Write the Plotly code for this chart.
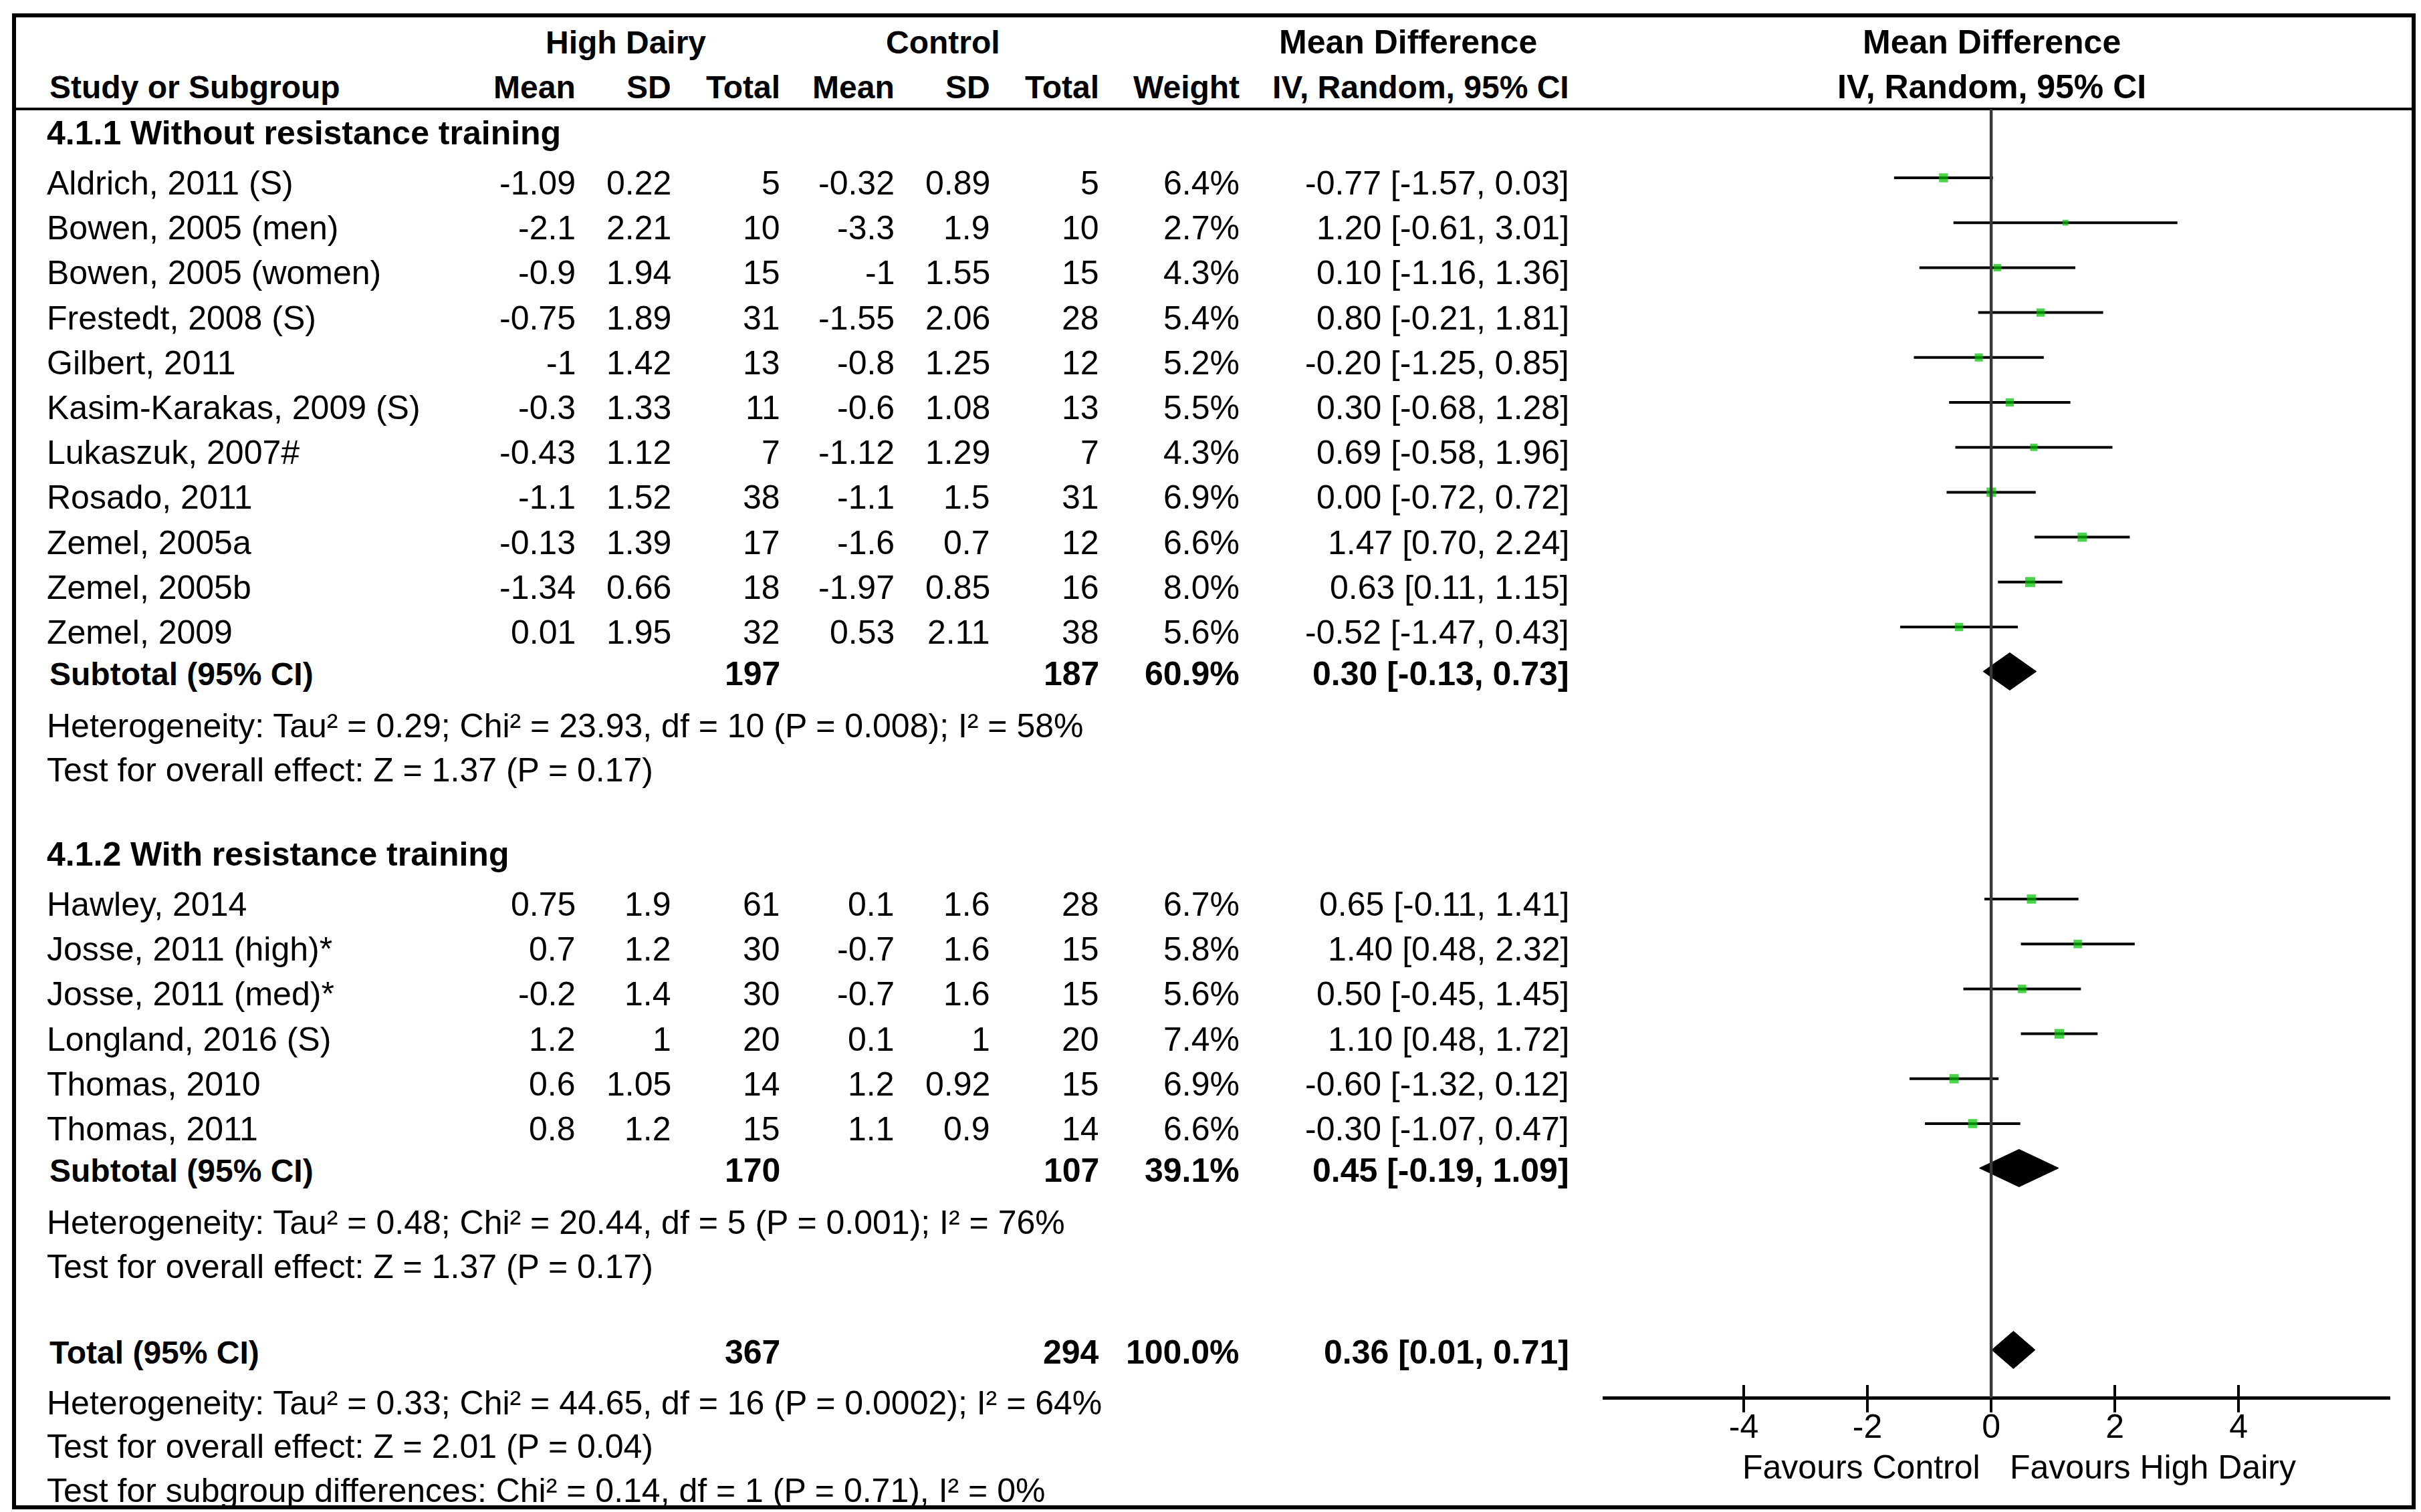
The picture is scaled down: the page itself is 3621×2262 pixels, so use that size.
import plotly.graph_objects as go

W, H = 3621, 2262

# ---- data ----
names_1 = ["Aldrich, 2011 (S)", "Bowen, 2005 (men)", "Bowen, 2005 (women)", "Frestedt, 2008 (S)",
           "Gilbert, 2011", "Kasim-Karakas, 2009 (S)", "Lukaszuk, 2007#", "Rosado, 2011",
           "Zemel, 2005a", "Zemel, 2005b", "Zemel, 2009"]
hd_mean_1 = [-1.09, -2.1, -0.9, -0.75, -1, -0.3, -0.43, -1.1, -0.13, -1.34, 0.01]
hd_sd_1 = [0.22, 2.21, 1.94, 1.89, 1.42, 1.33, 1.12, 1.52, 1.39, 0.66, 1.95]
hd_n_1 = [5, 10, 15, 31, 13, 11, 7, 38, 17, 18, 32]
ct_mean_1 = [-0.32, -3.3, -1, -1.55, -0.8, -0.6, -1.12, -1.1, -1.6, -1.97, 0.53]
ct_sd_1 = [0.89, 1.9, 1.55, 2.06, 1.25, 1.08, 1.29, 1.5, 0.7, 0.85, 2.11]
ct_n_1 = [5, 10, 15, 28, 12, 13, 7, 31, 12, 16, 38]
weight_1 = [6.4, 2.7, 4.3, 5.4, 5.2, 5.5, 4.3, 6.9, 6.6, 8.0, 5.6]
md_1 = [-0.77, 1.20, 0.10, 0.80, -0.20, 0.30, 0.69, 0.00, 1.47, 0.63, -0.52]
lo_1 = [-1.57, -0.61, -1.16, -0.21, -1.25, -0.68, -0.58, -0.72, 0.70, 0.11, -1.47]
hi_1 = [0.03, 3.01, 1.36, 1.81, 0.85, 1.28, 1.96, 0.72, 2.24, 1.15, 0.43]

names_2 = ["Hawley, 2014", "Josse, 2011 (high)*", "Josse, 2011 (med)*", "Longland, 2016 (S)",
           "Thomas, 2010", "Thomas, 2011"]
hd_mean_2 = [0.75, 0.7, -0.2, 1.2, 0.6, 0.8]
hd_sd_2 = [1.9, 1.2, 1.4, 1, 1.05, 1.2]
hd_n_2 = [61, 30, 30, 20, 14, 15]
ct_mean_2 = [0.1, -0.7, -0.7, 0.1, 1.2, 1.1]
ct_sd_2 = [1.6, 1.6, 1.6, 1, 0.92, 0.9]
ct_n_2 = [28, 15, 15, 20, 15, 14]
weight_2 = [6.7, 5.8, 5.6, 7.4, 6.9, 6.6]
md_2 = [0.65, 1.40, 0.50, 1.10, -0.60, -0.30]
lo_2 = [-0.11, 0.48, -0.45, 0.48, -1.32, -1.07]
hi_2 = [1.41, 2.32, 1.45, 1.72, 0.12, 0.47]

group_titles = ["4.1.1 Without resistance training", "4.1.2 With resistance training"]
# subtotal / total rows: high dairy N, control N, weight, MD, lower, upper
pooled_labels = ["Subtotal (95% CI)", "Subtotal (95% CI)", "Total (95% CI)"]
pooled_hd_n = [197, 170, 367]
pooled_ct_n = [187, 107, 294]
pooled_weight = [60.9, 39.1, 100.0]
pooled_md = [0.30, 0.45, 0.36]
pooled_lo = [-0.13, -0.19, 0.01]
pooled_hi = [0.73, 1.09, 0.71]

het_1 = ["Heterogeneity: Tau\u00b2 = 0.29; Chi\u00b2 = 23.93, df = 10 (P = 0.008); I\u00b2 = 58%",
         "Test for overall effect: Z = 1.37 (P = 0.17)"]
het_2 = ["Heterogeneity: Tau\u00b2 = 0.48; Chi\u00b2 = 20.44, df = 5 (P = 0.001); I\u00b2 = 76%",
         "Test for overall effect: Z = 1.37 (P = 0.17)"]
het_total = ["Heterogeneity: Tau\u00b2 = 0.33; Chi\u00b2 = 44.65, df = 16 (P = 0.0002); I\u00b2 = 64%",
             "Test for overall effect: Z = 2.01 (P = 0.04)",
             "Test for subgroup differences: Chi\u00b2 = 0.14, df = 1 (P = 0.71), I\u00b2 = 0%"]

tick_vals = [-4, -2, 0, 2, 4]
tick_text = ["-4", "-2", "0", "2", "4"]
favours = ["Favours Control", "Favours High Dairy"]

# ---- layout constants (pixels) ----
FONT = "Liberation Sans"
FS = 50
FS_BOLD = 48
LEFT_X = 60
COL_R = [855, 998, 1161, 1332, 1475, 1638, 1848, 2341]
HEAD_Y, COLHEAD_Y, RULE_Y = 55, 122, 155
AXIS_Y = 2083
STEP = 67.2
MARK_SHIFT = -8
DIAMOND_SHIFT = -3.5
DIAMOND_H = 28
X_RANGE = [-6.28, 6.45]
X_DOMAIN = [2389 / W, 3567 / W]
GREEN = "#00C000"

annotations = []


def label(x, y, s, anchor="left", bold=False, xref="paper", size=None):
    if size is None:
        size = FS_BOLD if bold else FS
    annotations.append(dict(
        x=x / W if xref == "paper" else x, y=y, xref=xref, yref="y",
        text="<b>%s</b>" % s if bold else s, showarrow=False,
        xanchor=anchor, yanchor="middle",
        font=dict(family=FONT, size=size, color="black")))


def num(v):
    return "{:g}".format(v)


# header
label(928, HEAD_Y, "High Dairy", "center", True)
label(1402, HEAD_Y, "Control", "center", True)
label(2098, HEAD_Y, "Mean Difference", "center", True, size=FS)
label(2971, HEAD_Y, "Mean Difference", "center", True, size=FS)
label(LEFT_X + 4, COLHEAD_Y, "Study or Subgroup", "left", True)
for x, s in zip(COL_R, ["Mean", "SD", "Total", "Mean", "SD", "Total", "Weight", "IV, Random, 95% CI"]):
    label(x, COLHEAD_Y, s, "right", True)
label(2971, COLHEAD_Y, "IV, Random, 95% CI", "center", True, size=FS)

groups = [
    (names_1, hd_mean_1, hd_sd_1, hd_n_1, ct_mean_1, ct_sd_1, ct_n_1, weight_1, md_1, lo_1, hi_1, het_1),
    (names_2, hd_mean_2, hd_sd_2, hd_n_2, ct_mean_2, ct_sd_2, ct_n_2, weight_2, md_2, lo_2, hi_2, het_2),
]

study_y, study_md, study_lo, study_hi, study_w = [], [], [], [], []
pooled_y = []

y = 191
for g, (nm, hm, hs, hn, cm, cs, cn, wt, md, lo, hi, het) in enumerate(groups):
    label(LEFT_X, y, group_titles[g], "left", True, size=FS)
    y += 75
    for i in range(len(nm)):
        if i:
            y += STEP
        label(LEFT_X, y, nm[i])
        cells = [num(hm[i]), num(hs[i]), str(hn[i]), num(cm[i]), num(cs[i]), str(cn[i]),
                 "%.1f%%" % wt[i], "%.2f [%.2f, %.2f]" % (md[i], lo[i], hi[i])]
        for x, s in zip(COL_R, cells):
            label(x, y, s, "right")
        study_y.append(y + MARK_SHIFT)
        study_md.append(md[i])
        study_lo.append(lo[i])
        study_hi.append(hi[i])
        study_w.append(wt[i])
    y += 62
    pooled_y.append(y)
    y += 78
    label(LEFT_X, y, het[0])
    y += 66
    label(LEFT_X, y, het[1])
    y += 126

y += 2
pooled_y.append(y)
for k, py in enumerate(pooled_y):
    label(LEFT_X + 4, py, pooled_labels[k], "left", True)
    cells = {2: str(pooled_hd_n[k]), 5: str(pooled_ct_n[k]), 6: "%.1f%%" % pooled_weight[k],
             7: "%.2f [%.2f, %.2f]" % (pooled_md[k], pooled_lo[k], pooled_hi[k])}
    for c, s in cells.items():
        label(COL_R[c], py, s, "right", True, size=FS)
y += 76
label(LEFT_X, y, het_total[0])
y += 65
label(LEFT_X, y, het_total[1])
y += 66
label(LEFT_X, y, het_total[2])

label(2956, 2187, favours[0], "right")
label(2996, 2187, favours[1], "left")

fig = go.Figure()

# confidence interval lines
ci_x, ci_y = [], []
for yy, a, b in zip(study_y, study_lo, study_hi):
    ci_x += [a, b, None]
    ci_y += [yy, yy, None]
fig.add_trace(go.Scatter(x=ci_x, y=ci_y, mode="lines", line=dict(color="black", width=4),
                         hoverinfo="skip", showlegend=False))

# study squares, area proportional to weight
fig.add_trace(go.Scatter(x=study_md, y=study_y, mode="markers",
                         marker=dict(symbol="square", color=GREEN, size=[5.3 * w ** 0.5 for w in study_w],
                                     line=dict(width=0)),
                         hoverinfo="skip", showlegend=False))

# pooled diamonds
for k, py in enumerate(pooled_y):
    cy = py + DIAMOND_SHIFT
    fig.add_trace(go.Scatter(
        x=[pooled_lo[k], pooled_md[k], pooled_hi[k], pooled_md[k], pooled_lo[k]],
        y=[cy, cy - DIAMOND_H, cy, cy + DIAMOND_H, cy],
        mode="lines", fill="toself", fillcolor="black", line=dict(color="black", width=1),
        hoverinfo="skip", showlegend=False))

# carrier for the upper half of the ticks
fig.add_trace(go.Scatter(x=tick_vals, y=[None] * len(tick_vals), xaxis="x2", yaxis="y",
                         mode="markers", hoverinfo="skip", showlegend=False))

shapes = [
    dict(type="rect", xref="paper", yref="paper", x0=13 / W, x1=3602 / W, y0=1 - 15 / H, y1=1 - 2247 / H,
         line=dict(color="black", width=6)),
    dict(type="line", xref="paper", yref="y", x0=13 / W, x1=3602 / W, y0=RULE_Y, y1=RULE_Y,
         line=dict(color="black", width=4)),
    dict(type="line", xref="x", yref="y", x0=0, x1=0, y0=RULE_Y, y1=AXIS_Y,
         line=dict(color="#383838", width=4.5)),
]

axis_pos = (H - AXIS_Y) / H
fig.update_layout(
    width=W, height=H, autosize=False,
    margin=dict(l=0, r=0, t=0, b=0, pad=0),
    paper_bgcolor="white", plot_bgcolor="white",
    showlegend=False,
    xaxis=dict(domain=X_DOMAIN, range=X_RANGE, anchor="free", position=axis_pos,
               showline=True, linecolor="black", linewidth=5, showgrid=False, zeroline=False,
               ticks="outside", ticklen=19, tickwidth=3.5, tickcolor="black",
               tickvals=tick_vals, ticktext=tick_text, ticklabelstandoff=-22,
               tickfont=dict(family=FONT, size=FS, color="black")),
    xaxis2=dict(domain=X_DOMAIN, range=X_RANGE, overlaying="x", anchor="free", position=axis_pos,
                showline=False, showgrid=False, zeroline=False, showticklabels=False,
                ticks="inside", ticklen=19, tickwidth=3.5, tickcolor="black", tickvals=tick_vals),
    yaxis=dict(domain=[0, 1], range=[H, 0], visible=False, showgrid=False, zeroline=False),
    annotations=annotations,
    shapes=shapes,
)

fig.write_html("out.html")
